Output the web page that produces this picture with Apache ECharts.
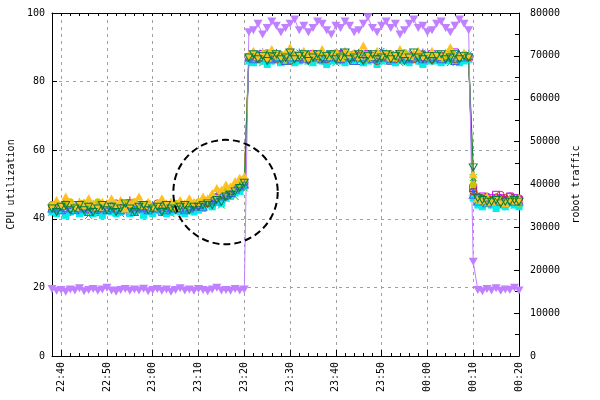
<!DOCTYPE html>
<html><head><meta charset="utf-8">
<script src="https://cdn.jsdelivr.net/npm/echarts@6/dist/echarts.min.js"></script>
<style>html,body{margin:0;padding:0;background:#fff}#c{width:600px;height:400px}</style>
</head><body><div id="c"></div>
<script>
// ---- data (minutes relative to 22:40, one sample per minute from 22:38) ----
const sampleStart = -2;
const xTickMinutes = [0, 10, 20, 30, 40, 50, 60, 70, 80, 90, 100];
const xTickLabels = ['22:40','22:50','23:00','23:10','23:20','23:30','23:40','23:50','00:00','00:10','00:20'];

const cpu1 = [43,44,42.5,43.5,44,43,45,43.5,42.5,44, 43,43.5,44.5,43,42,43.5,44,45.5,43,43.5, 42.5,44,43,44,43.5,42.5,43,44,43.5,44, 43,44.5,
  44,45,44.5,46,45.5,47,46.5,48,48.5,49.5,50,
  86.5,87.5,88,86,87,87.5,88.5,86.5,87,86, 87.5,88,87,86.5,87.5,88,86,87,87.5,86.5, 88,87,86,87.5,88.5,87,86.5,87,88,87.5, 86,87,87.5,88,86.5,87,87.5,86,88,87, 86.5,87.5,88,87,86.5,87,88,87.5,87,
  47,45.5,46,45,45.5,46.5,45,45.5,46,45,45.5];
const cpu2 = [42,43,42.5,41.5,43,42,43.5,42,41,42.5, 43,42,42.5,43.5,42,41.5,42.5,43,42,42.5, 41.5,43,42.5,42,43,42.5,41.5,42,43,42.5, 42,43,
  43,44,43.5,44.5,45,44,46,47,46.5,48,49,
  86,87,86.5,85.5,86.5,87,86,85.5,87,86.5, 86,87.5,86.5,86,85.5,86.5,87,86,86.5,85.5, 87,86.5,86,87,86.5,85.5,86,87,86.5,86, 87,86,86.5,85.5,86.5,87,86,86.5,85.5,87, 86.5,86,87,86.5,85.5,86,86.5,87,86.5,
  52,45,44.5,44,45,44.5,43.5,44.5,45,44,44.5];
const cpu3 = [43.5,42.5,43,44,42,43,43.5,44.5,43,42.5, 43,44,42.5,43,43.5,42,43,44,43.5,42.5, 43,43.5,44,42.5,43,43.5,42,43,44,43, 43.5,42.5,
  44,44.5,45,45.5,46.5,46,47.5,48,49,49.5,51,
  87.5,88,87,88.5,87.5,87,88,86.5,87.5,88, 87,88.5,87.5,87,86.5,88,87.5,88,87,87.5, 88.5,87,87.5,88,86.5,87.5,88,87,87.5,89, 87,87.5,88,86.5,87.5,88,87,87.5,88.5,87, 87.5,88,87,86.5,87.5,88,87,87.5,88,
  48,46,45.5,46,45,45.5,46,45.5,45,46,45.5];
const cpu4 = [43,42.5,43.5,42,43,44,43,42.5,43.5,43, 42,43,44,43.5,42.5,43,43.5,42,43,44, 43,42.5,43.5,43,42,43.5,44,43,42.5,43, 43.5,43,
  43.5,44,45,44.5,46,45.5,47,47.5,48.5,49,50,
  87,86.5,87.5,88,86.5,87,87.5,86,87,88, 87.5,86.5,87,87.5,88,86.5,87,86,87.5,87, 88,86.5,87,87.5,86,87,88,87.5,86.5,87, 87.5,86,87,88,87,86.5,87.5,87,86,87.5, 88,87,86.5,87.5,87,88.5,87,86.5,87,
  49,46,46.5,45.5,46,47,46,45.5,46.5,46,45.5];
const cpu5 = [42,41.5,42.5,41,42,42.5,41.5,42,43,41.5, 42,41,42.5,42,41.5,42,43,41.5,42,42.5, 41,42,41.5,42.5,42,41.5,42,43,42,41.5, 42.5,42,
  42.5,43,44,43.5,45,44.5,46,46.5,47.5,48,49.5,
  86,85.5,86.5,86,85,86,87,85.5,86,86.5, 85.5,86,87,86,85.5,86.5,86,85,86,86.5, 86,85.5,87,86,86.5,85.5,86,86.5,85,86, 86.5,86,85.5,87,86,85.5,86.5,86,85,86, 86.5,86,85.5,86,87,86,85.5,86,86.5,
  46,44,43.5,44.5,44,43,44,43.5,44.5,44,43.5];
const cpu6 = [44,43,43.5,44.5,43,43.5,44,43,44,43.5, 42.5,44,43.5,43,44.5,43.5,43,44,43.5,43, 44,43.5,43,44.5,43.5,43,44,43.5,43,44, 43.5,44,
  44.5,45,44.5,46,46.5,47,46.5,48,49,49.5,50.5,
  87,87.5,86.5,87,88,87,86.5,87.5,87,86, 87.5,87,88,86.5,87,87.5,87,86.5,88,87, 86.5,87.5,87,88,87,86.5,87.5,87,86,87.5, 87,88,86.5,87,87.5,87,86.5,87.5,88,87, 86.5,87,87.5,87,88,86.5,87,87.5,87,
  48,46.5,46,46.5,45.5,46,47,46,46.5,45.5,46];
const cpu7 = [44,44.5,43.5,44,45,43.5,44,44.5,43.5,44, 45,44,43.5,44.5,44,43,44.5,44,45,43.5, 44,44.5,43.5,44,45,44,43.5,44.5,44,43.5, 44,44.5,
  45,45.5,45,46.5,46,47.5,48,48.5,49.5,50,51,
  87.5,88,87,87.5,88.5,87,87.5,88,86.5,87.5, 88,87.5,87,88,87.5,86.5,88,87.5,87,88.5, 87.5,87,88,87.5,87,88,86.5,87.5,88,87, 87.5,88,87,87.5,88.5,87.5,87,88,87.5,87, 88,87.5,86.5,87.5,88,87,87.5,88,87.5,
  50,45.5,45,44.5,45,45.5,44.5,45,45.5,45,44.5];
const cpu8 = [43,43.5,42.5,43,44,42.5,43,43.5,42,43, 43.5,43,42.5,44,43,42.5,43.5,43,42,43.5, 43,42.5,43.5,43,44,42.5,43,43.5,43,42.5, 43,43.5,
  44,43.5,45,45.5,45,46.5,47,47.5,48.5,49.5,50,
  87,86.5,87.5,87,88,86.5,87,87.5,86,87, 87.5,87,86.5,88,87,87.5,86.5,87,88,87, 86.5,87.5,87,86,87.5,87,88,86.5,87,87.5, 87,86.5,87.5,88,87,86.5,87,87.5,86.5,87, 88,87,86.5,87.5,87,86,87.5,87,87.5,
  47,45,45.5,44.5,45,45.5,45,44.5,45.5,45,45];
const cpu9 = [44,45.5,44,46.5,44.5,43.5,45,44,46,44.5, 43.5,45,44.5,46,44,45.5,43,44.5,45,46.5, 44,45,43.5,44.5,46,44.5,45,43.5,45.5,44.5, 46,45,
  45,46.5,46,47.5,49,48.5,50,49.5,51,52,52.5,
  88,89,87.5,88.5,87,89.5,88,87.5,88.5,90, 87.5,88,89,87,88.5,88,89.5,87.5,88,88.5, 87,89,88,88.5,87.5,90.5,88,87.5,89,88, 88.5,87,88,89.5,88,87.5,88.5,89,87.5,88, 89,88,87.5,88.5,90,88,87.5,88.5,88,
  53,46,45.5,46.5,45,46,45.5,44.5,46,45.5,46];
const cpu10 = [43,42,43.5,44,42.5,43,44,42.5,43.5,42, 43,44,42.5,43.5,42,43,44.5,43,42,43.5, 44,42.5,43,43.5,42,44,43,42.5,43.5,44, 42.5,43.5,
  43.5,44,44.5,44,45.5,45,46.5,47,48,49,50.5,
  87,88,86.5,87.5,86,87.5,88,86.5,87,88.5, 86.5,87.5,88,86,87,88,86.5,87.5,88,86.5, 87,88.5,86.5,87,88,86,87.5,88,86.5,87, 88,86.5,87.5,88,86,87,88.5,87,86.5,87.5, 86,87.5,88,86.5,87,88,86.5,87.5,87,
  55,46,45.5,45,45,45.5,44.5,45,45,45.5,45];
const robotTraffic = [15600,15200,15400,15000,15500,15300,15800,15100,15400,15600, 15200,15500,15900,15300,15000,15400,15600,15200,15500,15300,
  15700,15100,15400,15600,15200,15500,15000,15400,15800,15300, 15500,15200,15600,15400,15100,15500,15900,15300,15400,15200, 15600,15300,15500,
  75500,76000,77500,75000,76500,78000,77000,75500,76500,77500, 78500,76000,77000,75500,76500,78000,77500,76000,75000,77000,
  76500,78000,77000,75500,76000,77500,79000,76500,75500,77000, 78000,76500,77500,75000,76000,77500,78500,76500,77000,75500,
  76000,77500,78000,76500,75500,77000,78500,77500,76000,
  22000,
  15400,15100,15600,15300,15800,15200,15500,15400,15900,15300];
// annotation circle: centre [minute, CPU %], radius in minutes
const noteCentre = [35.9, 47.8];
const noteRadius = 11.4;

// ---- styling ----
const FONT = 'DejaVu Sans Mono';
const cpuSeries = [cpu1, cpu2, cpu3, cpu4, cpu5, cpu6, cpu7, cpu8, cpu9, cpu10];
const colors = ['#ff0000','#00c000','#0080ff','#c000ff','#00eeee','#c04000','#c8c800','#4169e1','#ffc020','#008040'];
const TRI_DOWN = 'path://M0,0L10,0L5,9Z';
const symDefs = [
  {symbol: 'path://M5,0L5,10M0,5L10,5', size: 7, filled: false},
  {symbol: 'path://M0,0L10,10M10,0L0,10', size: 7, filled: false},
  {symbol: 'path://M5,0L5,10M0,5L10,5M1.5,1.5L8.5,8.5M8.5,1.5L1.5,8.5', size: 8, filled: false},
  {symbol: 'rect', size: 7, filled: false},
  {symbol: 'rect', size: 7, filled: true},
  {symbol: 'circle', size: 7, filled: false},
  {symbol: 'circle', size: 7, filled: true},
  {symbol: 'triangle', size: [8, 7], filled: false},
  {symbol: 'triangle', size: [9, 8], filled: true},
  {symbol: TRI_DOWN, size: [8, 7], filled: false}
];

function pairs(vals) { return vals.map((v, k) => [sampleStart + k, v]); }

const series = cpuSeries.map((vals, i) => {
  const c = colors[i], s = symDefs[i];
  return {
    type: 'line', xAxisIndex: 0, yAxisIndex: 0,
    data: pairs(vals),
    symbol: s.symbol, symbolSize: s.size, showAllSymbol: true,
    lineStyle: {color: c, width: 1},
    itemStyle: s.filled ? {color: c, borderWidth: 0} : {color: 'rgba(0,0,0,0)', borderColor: c, borderWidth: 1},
    emphasis: {disabled: true},
    animation: false
  };
});
series.push({
  type: 'line', xAxisIndex: 0, yAxisIndex: 1,
  data: pairs(robotTraffic),
  symbol: TRI_DOWN, symbolSize: [9, 8], showAllSymbol: true,
  lineStyle: {color: '#c080ff', width: 1},
  itemStyle: {color: '#c080ff', borderWidth: 0},
  emphasis: {disabled: true},
  animation: false
});

const txt = {fontFamily: FONT, fontSize: 10, color: '#000'};
const gridLine = {show: true, lineStyle: {color: '#a0a0a0', type: [3, 4], width: 1}};

const option = {
  backgroundColor: '#fff',
  animation: false,
  grid: {left: 52, right: 81, top: 13, bottom: 44, outerBoundsMode: 'none', containLabel: false},
  xAxis: [
    {type: 'value', min: -2, max: 100, position: 'bottom',
      axisLine: {show: true, onZero: false, lineStyle: {color: '#000', width: 1}},
      axisTick: {show: true, inside: true, length: 6, customValues: xTickMinutes, lineStyle: {color: '#000'}},
      axisLabel: Object.assign({customValues: xTickMinutes, rotate: 90, margin: 6,
        formatter: v => { const k = xTickMinutes.indexOf(v); return k >= 0 ? xTickLabels[k] : ''; }}, txt),
      splitLine: gridLine},
    {type: 'value', min: -2, max: 100, interval: 2, position: 'bottom',
      axisLine: {show: false, onZero: false}, axisTick: {show: true, inside: true, length: 3, lineStyle: {color: '#000'}},
      axisLabel: {show: false}, splitLine: {show: false}},
    {type: 'value', min: -2, max: 100, interval: 2, position: 'top',
      axisLine: {show: true, onZero: false, lineStyle: {color: '#000', width: 1}},
      axisTick: {show: true, inside: true, length: 3, lineStyle: {color: '#000'}},
      axisLabel: {show: false}, splitLine: {show: false}}
  ],
  yAxis: [
    {type: 'value', min: 0, max: 100, interval: 20, position: 'left',
      name: 'CPU utilization', nameLocation: 'middle', nameGap: 36, nameRotate: 90, nameTextStyle: txt,
      axisLine: {show: true, onZero: false, lineStyle: {color: '#000', width: 1}},
      axisTick: {show: true, inside: true, length: 5, lineStyle: {color: '#000'}},
      axisLabel: Object.assign({margin: 7}, txt),
      splitLine: gridLine},
    {type: 'value', min: 0, max: 80000, interval: 10000, position: 'right',
      name: 'robot traffic', nameLocation: 'middle', nameGap: 51, nameRotate: 90, nameTextStyle: txt,
      axisLine: {show: true, onZero: false, lineStyle: {color: '#000', width: 1}},
      axisTick: {show: true, inside: true, length: 5, lineStyle: {color: '#000'}},
      minorTick: {show: true, splitNumber: 2, length: 4, lineStyle: {color: '#000'}},
      axisLabel: Object.assign({margin: 11, formatter: v => String(v)}, txt),
      splitLine: {show: false}}
  ],
  series: series
};

const chart = echarts.init(document.getElementById('c'), null, {renderer: 'canvas'});
chart.setOption(option);
const cp = chart.convertToPixel({seriesIndex: 0}, noteCentre);
const ep = chart.convertToPixel({seriesIndex: 0}, [noteCentre[0] + noteRadius, noteCentre[1]]);
chart.setOption({graphic: [{type: 'circle', z: 100,
  shape: {cx: cp[0], cy: cp[1], r: ep[0] - cp[0]},
  style: {fill: 'none', stroke: '#000', lineWidth: 2, lineDash: [7, 4]}}]});
</script>
</body></html>
